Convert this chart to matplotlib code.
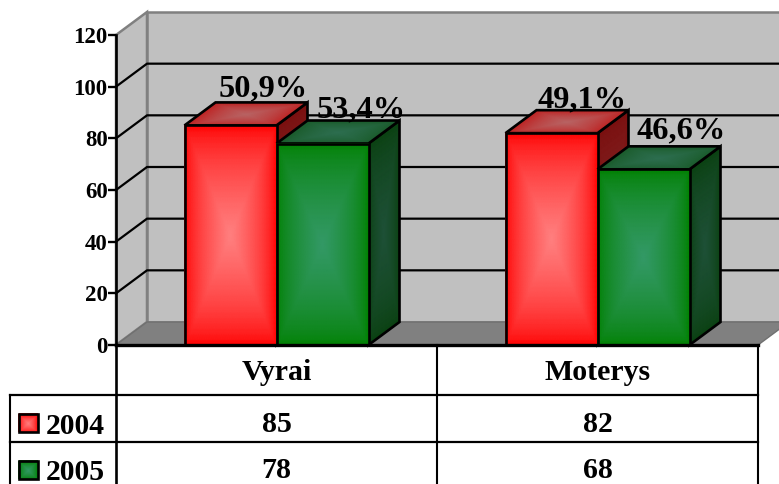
import numpy as np
import matplotlib
matplotlib.use('Agg')
import matplotlib.pyplot as plt
from matplotlib.colors import LinearSegmentedColormap
from matplotlib.patches import Polygon, Rectangle

plt.rcParams['font.family'] = ['Liberation Serif', 'DejaVu Sans']
plt.rcParams['font.weight'] = 'bold'

# data
categories = ['Vyrai', 'Moterys']
years = ['2004', '2005']
values_2004 = [85, 82]
values_2005 = [78, 68]
percent_2004 = ['50,9%', '49,1%']
percent_2005 = ['53,4%', '46,6%']
y_ticks = [0, 20, 40, 60, 80, 100, 120]

# figure size in pixels and plot box
W, H = 779, 484
LEFT, RIGHT, BOTTOM, TOP = 116, 758, 345, 35
BAR_W = 92 / 321
DX = 31 / 321             # depth of the 3d effect, in x units
DY = 23 * 120 / 310       # same, in y units

# (center, edge) colours of each face
RED = {'front': ('#ff8080', '#ff0000'), 'top': ('#b86464', '#bf1e1e'), 'side': ('#822424', '#7a0f0f')}
GREEN = {'front': ('#339966', '#008000'), 'top': ('#2d6e50', '#195a28'), 'side': ('#1e5037', '#0a4110')}


def shaded_face(ax, corners, colors, zorder):
    # corners: lower left, lower right, upper right, upper left
    c = np.array(corners)
    u, v = np.meshgrid(np.linspace(0, 1, 41), np.linspace(0, 1, 41))
    X = (1-u)*(1-v)*c[0, 0] + u*(1-v)*c[1, 0] + u*v*c[2, 0] + (1-u)*v*c[3, 0]
    Y = (1-u)*(1-v)*c[0, 1] + u*(1-v)*c[1, 1] + u*v*c[2, 1] + (1-u)*v*c[3, 1]
    T = 1 - np.maximum(np.abs(2*u-1), np.abs(2*v-1))
    cmap = LinearSegmentedColormap.from_list('face', [colors[1], colors[0]])
    ax.pcolormesh(X, Y, T**0.65, cmap=cmap, shading='gouraud', vmin=0, vmax=1,
                  clip_on=False, zorder=zorder)
    ax.add_patch(Polygon(c, closed=True, fill=False, edgecolor='black', linewidth=1.9,
                         joinstyle='miter', clip_on=False, zorder=zorder + 0.1))


def draw_bar(ax, x, value, colors, zorder):
    x0, x1 = x, x + BAR_W
    shaded_face(ax, [(x1, 0), (x1+DX, DY), (x1+DX, value+DY), (x1, value)], colors['side'], zorder)
    shaded_face(ax, [(x0, value), (x1, value), (x1+DX, value+DY), (x0+DX, value+DY)], colors['top'], zorder + 0.2)
    shaded_face(ax, [(x0, 0), (x1, 0), (x1, value), (x0, value)], colors['front'], zorder + 0.4)


fig = plt.figure(figsize=(W/100, H/100), dpi=100)
ax = fig.add_axes([LEFT/W, 1-BOTTOM/H, (RIGHT-LEFT)/W, (BOTTOM-TOP)/H])
ax.patch.set_visible(False)

xa, xb = -0.5, 1.5
ymax = y_ticks[-1]

# walls and floor
ax.add_patch(Polygon([(xa, 0), (xa+DX, DY), (xa+DX, ymax+DY), (xa, ymax)], facecolor='#c0c0c0',
                     edgecolor='#808080', linewidth=1.8, clip_on=False, zorder=1))
ax.add_patch(Rectangle((xa+DX, DY), xb-xa, ymax, facecolor='#c0c0c0', edgecolor='#808080',
                       linewidth=1.8, clip_on=False, zorder=1))
ax.add_patch(Polygon([(xa, 0), (xb, 0), (xb+DX, DY), (xa+DX, DY)], facecolor='#808080',
                     edgecolor='#707070', linewidth=1, clip_on=False, zorder=1.5))

# gridlines on the walls
for t in y_ticks[1:-1]:
    ax.plot([xa, xa+DX, xb+DX], [t, t+DY, t+DY], color='black', lw=1.6, clip_on=False, zorder=2)

# bars
offsets_2004 = [(33, 6), (30, 3)]
offsets_2005 = [(39, 3), (38, 8)]
for i in range(len(categories)):
    draw_bar(ax, i - BAR_W, values_2004[i], RED, 3 + i)
    draw_bar(ax, i, values_2005[i], GREEN, 3.5 + i)
    ax.annotate(percent_2004[i], (i - BAR_W/2, values_2004[i] + DY), xytext=offsets_2004[i],
                textcoords='offset pixels', ha='center', va='baseline', fontsize=23.3,
                annotation_clip=False, zorder=10)
    ax.annotate(percent_2005[i], (i + BAR_W/2, values_2005[i] + DY), xytext=offsets_2005[i],
                textcoords='offset pixels', ha='center', va='baseline', fontsize=23.3,
                annotation_clip=False, zorder=10)

ax.set_xlim(xa, xb)
ax.set_ylim(0, ymax)
ax.set_xticks([])
ax.set_yticks(y_ticks)
ax.tick_params(axis='y', length=5.8, width=1.7, pad=0.3, labelsize=16.5)
for name in ['top', 'right']:
    ax.spines[name].set_visible(False)
ax.spines['left'].set_linewidth(1.9)
ax.spines['bottom'].set_linewidth(2.4)
for s in ax.spines.values():
    s.set_zorder(20)

# data table below the plot, in pixel coordinates
tb = fig.add_axes([0, 0, 1, 1])
tb.set_xlim(0, W)
tb.set_ylim(H, 0)
tb.axis('off')
COLS = [116, 437, 758]
ROWS = [395, 442, 489]
KEY_X = 10
tb.plot([COLS[0], COLS[0]], [BOTTOM, H+5], color='black', lw=1.9)
for c in COLS[1:]:
    tb.plot([c, c], [BOTTOM, H+5], color='black', lw=1.5)
tb.plot([KEY_X, KEY_X], [ROWS[0], H+5], color='black', lw=1.5)
for r in ROWS[:2]:
    tb.plot([KEY_X, COLS[-1]], [r, r], color='black', lw=1.6)

for j, name in enumerate(categories):
    xc = (COLS[j] + COLS[j+1]) / 2
    tb.text(xc, 380, name, ha='center', va='baseline', fontsize=21.5)
    tb.text(xc, 432, str(values_2004[j]), ha='center', va='baseline', fontsize=21.5)
    tb.text(xc, 478, str(values_2005[j]), ha='center', va='baseline', fontsize=21.5)

# legend keys
for year, colors, y0, base in [(years[0], RED, 414, 434), (years[1], GREEN, 461, 480)]:
    shaded_face(tb, [(19, y0+18), (38, y0+18), (38, y0), (19, y0)], colors['front'], 5)
    tb.text(46, base, year, ha='left', va='baseline', fontsize=21.3)

tb.set_xlim(0, W)
tb.set_ylim(H, 0)

fig.savefig('out.png', dpi=100)
